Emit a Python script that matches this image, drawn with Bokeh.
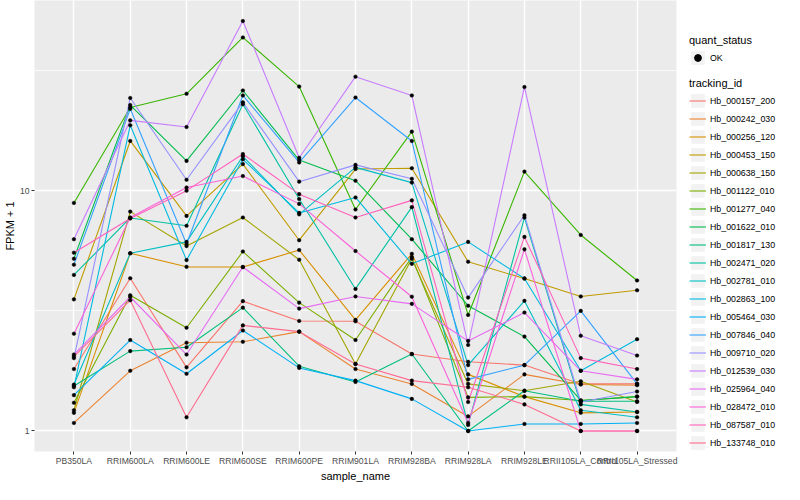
from bokeh.plotting import figure
from bokeh.layouts import row
from bokeh.models import (FactorRange, Range1d, FixedTicker, CustomJSTickFormatter,
                          Legend, LegendItem)
from bokeh.embed import file_html
from bokeh.resources import INLINE

samples = ["PB350LA", "RRIM600LA", "RRIM600LE", "RRIM600SE", "RRIM600PE", "RRIM901LA",
           "RRIM928BA", "RRIM928LA", "RRIM928LE", "RRII105LA_Control", "RRII105LA_Stressed"]

tracking_ids = ["Hb_000157_200", "Hb_000242_030", "Hb_000256_120", "Hb_000453_150",
                "Hb_000638_150", "Hb_001122_010", "Hb_001277_040", "Hb_001622_010",
                "Hb_001817_130", "Hb_002471_020", "Hb_002781_010", "Hb_002863_100",
                "Hb_005464_030", "Hb_007846_040", "Hb_009710_020", "Hb_012539_030",
                "Hb_025964_040", "Hb_028472_010", "Hb_087587_010", "Hb_133748_010"]

# FPKM + 1 per sample, one list per tracking_id
hb_000157_200 = [1.81, 4.32, 1.84, 3.47, 2.87, 2.86, 2.09, 1.94, 1.88, 1.57, 1.57]
hb_000242_030 = [1.08, 1.78, 2.33, 2.35, 2.59, 1.81, 1.57, 1.15, 1.72, 1.56, 1.55]
hb_000256_120 = [1.19, 5.49, 4.82, 4.81, 5.66, 2.90, 5.46, 1.72, 1.39, 1.19, 1.20]
hb_000453_150 = [3.53, 16.1, 7.85, 12.9, 6.22, 12.3, 12.4, 5.06, 4.31, 3.63, 3.85]
hb_000638_150 = [1.22, 8.18, 5.88, 7.73, 5.16, 1.90, 5.21, 1.57, 1.47, 1.61, 1.32]
hb_001122_010 = [1.31, 3.67, 2.69, 5.58, 3.42, 2.39, 5.29, 1.38, 1.39, 1.34, 1.39]
hb_001277_040 = [8.89, 22.2, 25.3, 43.4, 27.1, 8.35, 17.6, 3.04, 12.0, 6.54, 4.23]
hb_001622_010 = [5.21, 22.7, 13.3, 26.1, 13.4, 11.0, 6.28, 3.32, 2.47, 1.34, 1.39]
hb_001817_130 = [1.54, 2.15, 2.23, 3.26, 1.86, 1.60, 2.09, 1.00, 1.47, 1.33, 1.33]
hb_002471_020 = [4.46, 7.70, 7.14, 22.9, 9.23, 3.90, 8.54, 1.06, 7.73, 1.29, 1.20]
hb_002781_010 = [1.56, 5.49, 6.12, 13.9, 7.97, 12.5, 10.8, 1.88, 3.48, 1.22, 1.14]
hb_002863_100 = [1.52, 18.7, 5.14, 13.5, 8.08, 9.37, 4.96, 6.12, 4.31, 1.78, 2.41]
hb_005464_030 = [1.41, 2.39, 1.73, 2.62, 1.83, 1.62, 1.36, 1.00, 1.07, 1.07, 1.08]
hb_007846_040 = [4.92, 21.9, 6.00, 24.9, 13.1, 24.4, 16.1, 1.64, 1.88, 3.16, 1.57]
hb_009710_020 = [2.01, 24.3, 11.1, 23.3, 10.9, 12.8, 11.2, 3.59, 7.90, 1.32, 1.46]
hb_012539_030 = [6.28, 19.6, 18.4, 50.8, 13.7, 29.8, 24.9, 2.28, 27.0, 2.49, 2.06]
hb_025964_040 = [2.08, 3.61, 2.08, 4.81, 3.23, 3.63, 3.38, 2.37, 3.11, 1.78, 1.64]
hb_028472_010 = [2.54, 7.73, 10.3, 11.5, 8.81, 5.61, 3.62, 1.08, 5.70, 1.00, 1.00]
hb_087587_010 = [5.52, 7.66, 10.0, 14.2, 9.67, 7.73, 9.11, 1.32, 6.42, 2.01, 1.81]
hb_133748_010 = [2.04, 3.50, 1.14, 2.75, 2.59, 1.90, 1.62, 1.52, 1.29, 1.00, 1.00]

series_values = [hb_000157_200, hb_000242_030, hb_000256_120, hb_000453_150, hb_000638_150,
                 hb_001122_010, hb_001277_040, hb_001622_010, hb_001817_130, hb_002471_020,
                 hb_002781_010, hb_002863_100, hb_005464_030, hb_007846_040, hb_009710_020,
                 hb_012539_030, hb_025964_040, hb_028472_010, hb_087587_010, hb_133748_010]

colors = ["#F8766D", "#EA8331", "#D89000", "#C09B00", "#A3A500", "#7CAE00", "#39B600",
          "#00BB4E", "#00BF7D", "#00C1A3", "#00BFC4", "#00BAE0", "#00B0F6", "#35A2FF",
          "#9590FF", "#C77CFF", "#E76BF3", "#FA62DB", "#FF62BC", "#FF6C91"]

FONT = "Liberation Sans"

p = figure(width=684, height=484,
           x_range=FactorRange(*samples, range_padding=0.2, range_padding_units="absolute"),
           y_axis_type="log", y_range=Range1d(0.8216, 61.83),
           output_backend="svg", toolbar_location=None,
           min_border_left=27, min_border_right=8, min_border_top=0, min_border_bottom=24)

p.background_fill_color = "#EBEBEB"
p.border_fill_color = "white"
p.outline_line_color = None

p.xgrid.grid_line_color = "white"
p.xgrid.grid_line_width = 1.4
p.ygrid.grid_line_color = "white"
p.ygrid.grid_line_width = 1.4
p.ygrid.minor_grid_line_color = "white"
p.ygrid.minor_grid_line_width = 0.7

p.yaxis.ticker = FixedTicker(ticks=[1, 10], minor_ticks=[10 ** 0.5, 10 ** 1.5])
p.yaxis.formatter = CustomJSTickFormatter(code="return tick.toString();")

for ax in (p.xaxis, p.yaxis):
    ax.axis_line_color = None
    ax.major_tick_line_color = "#333333"
    ax.major_tick_out = 3
    ax.major_tick_in = 0
    ax.minor_tick_line_color = None
    ax.major_label_text_font = FONT
    ax.major_label_text_font_size = "8.6px"
    ax.major_label_text_color = "#4D4D4D"
    ax.major_label_standoff = 1
    ax.axis_label_text_font = FONT
    ax.axis_label_text_font_size = "11px"
    ax.axis_label_text_font_style = "normal"
    ax.axis_label_text_color = "black"
    ax.axis_label_standoff = 1

p.xaxis.axis_label = "sample_name"
p.yaxis.axis_label = "FPKM + 1"

for vals, col in zip(series_values, colors):
    p.line(x=samples, y=vals, line_color=col, line_width=1.1)

pt_x, pt_y = [], []
for vals in series_values:
    pt_x.extend(samples)
    pt_y.extend(vals)
p.scatter(x=pt_x, y=pt_y, size=3.6, fill_color="black", line_color="black", line_width=0.5)

# ---- legend panel (keys use renderers whose data lie outside the visible range) ----
lf = figure(width=100, height=484, x_range=Range1d(0, 1), y_range=Range1d(0, 1),
            output_backend="svg", toolbar_location=None,
            x_axis_location=None, y_axis_location=None,
            min_border_left=0, min_border_right=0, min_border_top=0, min_border_bottom=0)
lf.outline_line_color = None
lf.xgrid.visible = False
lf.ygrid.visible = False
lf.background_fill_color = "white"

off = [-5, -4]
key_bg = lf.quad(left=[-5], right=[-4], top=[-4], bottom=[-5], fill_color="#F2F2F2", line_color=None)
key_pt = lf.scatter(x=[-5], y=[-5], size=3.6, fill_color="black", line_color="black")
key_lines = [lf.line(x=off, y=off, line_color=c, line_width=1.1) for c in colors]


def style_legend(lg):
    lg.title_text_font = FONT
    lg.title_text_font_size = "11px"
    lg.title_text_font_style = "normal"
    lg.title_text_color = "black"
    lg.title_standoff = 3
    lg.label_text_font = FONT
    lg.label_text_font_size = "8.8px"
    lg.label_text_color = "black"
    lg.glyph_width = 17
    lg.glyph_height = 17
    lg.label_height = 17
    lg.label_standoff = 4
    lg.spacing = 1
    lg.padding = 0
    lg.margin = 0
    lg.border_line_color = None
    lg.background_fill_alpha = 0


legend_q = Legend(title="quant_status",
                  items=[LegendItem(label="OK", renderers=[key_bg, key_pt])],
                  location=(5, 385))
style_legend(legend_q)

legend_t = Legend(title="tracking_id",
                  items=[LegendItem(label=tid, renderers=[key_bg, r])
                         for tid, r in zip(tracking_ids, key_lines)],
                  location=(5, 0))
style_legend(legend_t)

lf.add_layout(legend_q, "center")
lf.add_layout(legend_t, "center")

layout = row(p, lf, spacing=0)
open("out.html", "w").write(file_html(layout, INLINE))
